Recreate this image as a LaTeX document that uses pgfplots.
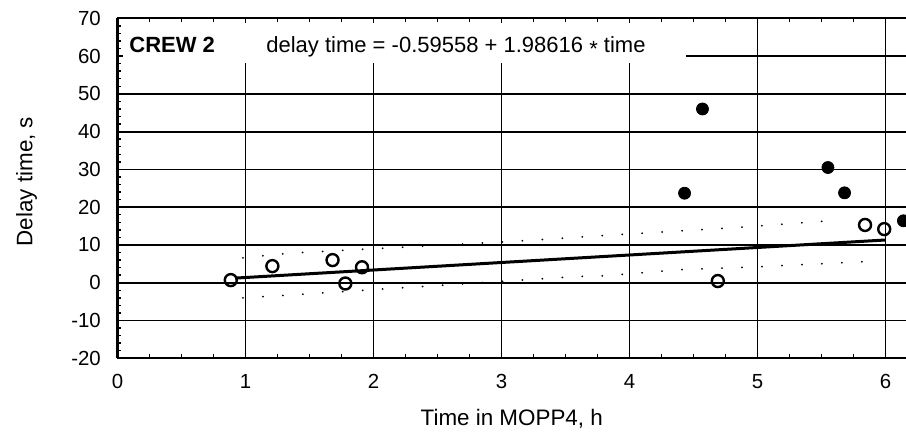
\documentclass[border=0pt]{standalone}
\usepackage{fontspec}
\setmainfont{Liberation Sans}
\usepackage{pgfplots}
\pgfplotsset{compat=1.18}
\begin{document}
\begin{tikzpicture}
\useasboundingbox (-58.75pt,-38.35pt) rectangle (394.25pt,179.15pt);
\begin{axis}[
  at={(0pt,0pt)}, anchor=south west,
  scale only axis, width=394.25pt, height=170pt,
  xmin=0, xmax=6.16, ymin=-20, ymax=70,
  axis x line*=box, axis y line*=left,
  xtick={0,...,6}, ytick={-20,-10,...,70},
  minor x tick num=3, minor y tick num=4,
  tick align=inside,
  major tick length=3pt, minor tick length=2pt,
  grid=major,
  major grid style={black, line width=0.9pt},
  axis line style={black, line width=1.1pt},
  tick style={black, line width=0.7pt},
  /pgf/number format/assume math mode=true,
  ticklabel style={font=\fontsize{10.2}{12}\selectfont},
  yticklabel style={xshift=-4.8pt},
  xticklabel style={yshift=-4.6pt},
  xlabel={Time in MOPP4, h},
  ylabel={Delay time, s},
  every axis x label/.style={at={(axis description cs:0.5,-0.1785)}, anchor=center, font=\fontsize{11.2}{13}\selectfont},
  every axis y label/.style={at={(axis description cs:-0.1154,0.52)}, anchor=center, rotate=90, font=\fontsize{11.2}{13}\selectfont},
]
% confidence bands (dotted)
\addplot[black, line width=1pt, line cap=round, dash pattern=on 0pt off 10pt] coordinates {
  (0.98,6.6) (1.33,7.8) (3.12,11.0) (3.39,11.6) (3.85,12.6) (4.92,14.8) (5.63,16.6)};
\addplot[black, line width=1pt, line cap=round, dash pattern=on 0pt off 10pt] coordinates {
  (0.98,-4.0) (1.42,-3.1) (3.57,1.6) (3.83,1.9) (4.37,3.4) (4.92,4.1) (5.91,5.7)};
% regression line
\addplot[black, line width=1.5pt] coordinates {(0.92,1.23) (6.0,11.32)};
% open circles
\addplot[only marks, mark=o, mark size=3pt, mark options={line width=1.2pt, black, fill=white}] coordinates {
  (0.885,0.7) (1.21,4.4) (1.68,6.0) (1.78,-0.2) (1.91,4.1) (4.69,0.45) (5.84,15.3) (5.99,14.2)};
% filled circles
\addplot[only marks, mark=*, mark size=3pt, mark options={black, fill=black}] coordinates {
  (4.43,23.7) (4.57,46.0) (5.55,30.5) (5.68,23.8) (6.14,16.4)};
% white label box
\fill[white] (axis cs:0.04,58.1) rectangle (axis cs:4.445,68.8);
\node[anchor=base west, inner sep=0pt, font=\bfseries\fontsize{11}{13}\selectfont] at (axis cs:0.09,60.9) {CREW 2};
\node[anchor=base west, inner sep=0pt, font=\fontsize{11}{13}\selectfont] at (axis cs:1.16,60.9) {delay time = -0.59558 + 1.98616 \raisebox{-0.35ex}{*} time};
\end{axis}
\end{tikzpicture}
\end{document}
